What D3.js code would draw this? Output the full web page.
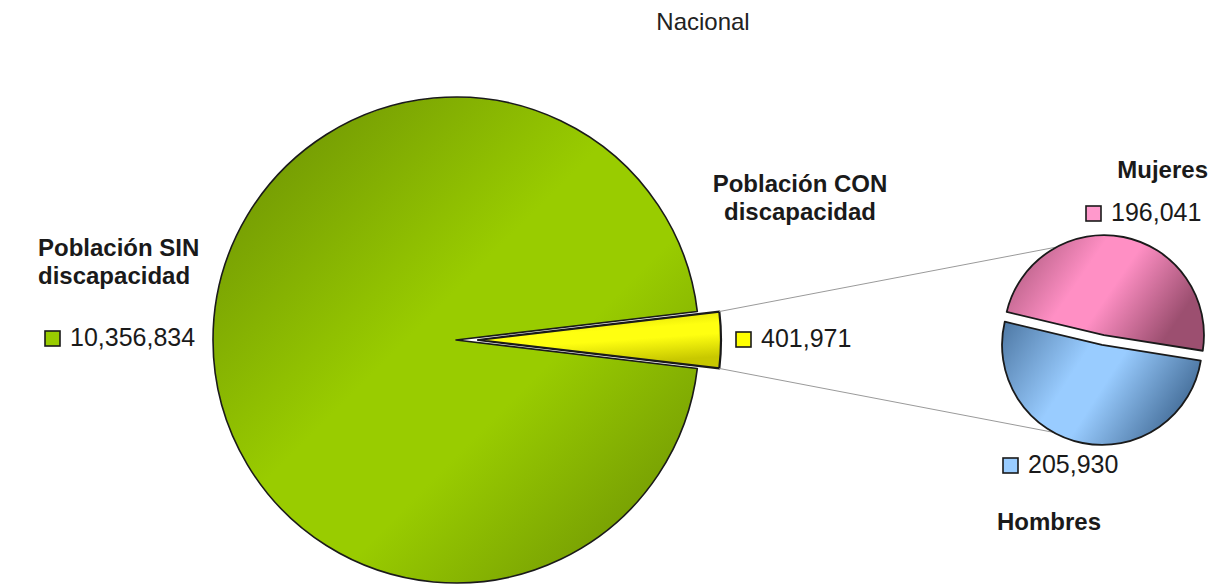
<!DOCTYPE html>
<html>
<head>
<meta charset="utf-8">
<script src="https://cdn.jsdelivr.net/npm/d3@7"></script>
<style>
  body { margin: 0; background: #fff; }
  svg { display: block; font-family: "Liberation Sans", Arial, sans-serif; }
</style>
</head>
<body>
<div id="chart"></div>
<script>
// main pie data
const categories = ["Población SIN discapacidad", "Población CON discapacidad"];
const values = [10356834, 401971];
// breakdown of the second slice
const subCategories = ["Mujeres", "Hombres"];
const subValues = [196041, 205930];

const width = 1232,
  height = 585;
const fmt = d3.format(",");

const svg = d3.select("#chart").append("svg").attr("width", width).attr("height", height);
const defs = svg.append("defs");

// shaded fills, light in the middle and darker toward the edges
function shade(id, dark, light, x2, y2) {
  const g = defs.append("linearGradient").attr("id", id).attr("x1", 0).attr("y1", 0).attr("x2", x2).attr("y2", y2);
  g.append("stop").attr("offset", "0%").attr("stop-color", dark);
  g.append("stop").attr("offset", "45%").attr("stop-color", light);
  g.append("stop").attr("offset", "62%").attr("stop-color", light);
  g.append("stop").attr("offset", "100%").attr("stop-color", dark);
}
shade("g-green", "#678a05", "#99cc00", 1, 1);
shade("g-yellow", "#c8c800", "#ffff10", 0.3, 1);
shade("g-pink", "#9c4f70", "#ff8fc4", 1, 0.4);
shade("g-blue", "#4d77a3", "#99ccff", 1, 0.4);

const colors = ["url(#g-green)", "url(#g-yellow)"];
const swatch = ["#99cc00", "#ffff00"];
const subColors = ["url(#g-pink)", "url(#g-blue)"];
const subSwatch = ["#ff99cc", "#99ccff"];

svg
  .append("text")
  .attr("x", 703)
  .attr("y", 30)
  .attr("text-anchor", "middle")
  .style("font-size", "24px")
  .attr("fill", "#222")
  .text("Nacional");

// ---- main pie ----
const cx = 456,
  cy = 340,
  radius = 243,
  explode = 22;
const total = d3.sum(values);
const smallAngle = (2 * Math.PI * values[1]) / total;
const start = Math.PI / 2 + smallAngle / 2 - 2 * Math.PI;

const pie = d3
  .pie()
  .sort(null)
  .startAngle(start)
  .endAngle(start + 2 * Math.PI);
const mainArcs = pie(values);
const arc = d3.arc().innerRadius(0).outerRadius(radius);

const mainG = svg.append("g").attr("transform", `translate(${cx},${cy})`);
mainG
  .selectAll("path")
  .data(mainArcs)
  .join("path")
  .attr("d", arc)
  .attr("transform", (d, i) => {
    if (i === 0) return null;
    const mid = (d.startAngle + d.endAngle) / 2;
    return `translate(${explode * Math.sin(mid)},${-explode * Math.cos(mid)})`;
  })
  .attr("fill", (d, i) => colors[i])
  .attr("stroke", "#1a1a1a")
  .attr("stroke-width", (d, i) => (i === 0 ? 1.6 : 2.2))
  .attr("stroke-linejoin", "round");

// ---- secondary pie ----
const sx = 1103,
  sy = 340,
  sRadius = 100,
  sExplode = 5,
  tilt = (9 * Math.PI) / 180;
const subTotal = d3.sum(subValues);
const subStart = Math.PI / 2 + tilt - (2 * Math.PI * subValues[0]) / subTotal;
const subPie = d3
  .pie()
  .sort(null)
  .startAngle(subStart)
  .endAngle(subStart + 2 * Math.PI);
const subArcs = subPie(subValues);
const subArc = d3.arc().innerRadius(0).outerRadius(sRadius);

// connector lines from the exploded slice to the secondary pie (tangents)
const small = mainArcs[1];
const smallMid = (small.startAngle + small.endAngle) / 2;
const ox = cx + explode * Math.sin(smallMid),
  oy = cy - explode * Math.cos(smallMid);
function corner(a) {
  return [ox + radius * Math.sin(a), oy - radius * Math.cos(a)];
}
function tangent(p, side) {
  const dx = p[0] - sx,
    dy = p[1] - sy;
  const d = Math.hypot(dx, dy);
  const base = Math.atan2(dy, dx);
  const t = base + side * Math.acos(sRadius / d);
  return [sx + sRadius * Math.cos(t), sy + sRadius * Math.sin(t)];
}
const pTop = corner(small.startAngle);
const pBot = corner(small.endAngle);
const connectors = [
  [pTop, tangent(pTop, 1)],
  [pBot, tangent(pBot, -1)],
];
svg
  .selectAll("line.connector")
  .data(connectors)
  .join("line")
  .attr("class", "connector")
  .attr("x1", (d) => d[0][0])
  .attr("y1", (d) => d[0][1])
  .attr("x2", (d) => d[1][0])
  .attr("y2", (d) => d[1][1])
  .attr("stroke", "#9a9a9a")
  .attr("stroke-width", 1);

const subG = svg.append("g").attr("transform", `translate(${sx},${sy})`);
subG
  .selectAll("path")
  .data(subArcs)
  .join("path")
  .attr("d", subArc)
  .attr("transform", (d) => {
    const mid = (d.startAngle + d.endAngle) / 2;
    return `translate(${sExplode * Math.sin(mid)},${-sExplode * Math.cos(mid)})`;
  })
  .attr("fill", (d, i) => subColors[i])
  .attr("stroke", "#1a1a1a")
  .attr("stroke-width", 1.8)
  .attr("stroke-linejoin", "round");

// ---- labels ----
const titleLabels = [
  { lines: ["Población SIN", "discapacidad"], x: 38, y: 256, anchor: "start" },
  { lines: ["Población CON", "discapacidad"], x: 800, y: 192, anchor: "middle" },
  { lines: ["Mujeres"], x: 1208, y: 178, anchor: "end" },
  { lines: ["Hombres"], x: 997, y: 530, anchor: "start" },
];
titleLabels.forEach((l) => {
  const t = svg
    .append("text")
    .attr("x", l.x)
    .attr("y", l.y)
    .attr("text-anchor", l.anchor)
    .style("font-size", "24px")
    .style("font-weight", "bold")
    .attr("fill", "#1a1a1a");
  l.lines.forEach((line, i) => {
    t.append("tspan")
      .attr("x", l.x)
      .attr("dy", i === 0 ? 0 : 27.5)
      .text(line);
  });
});

const valueLabels = [
  { value: values[0], fill: swatch[0], x: 45, y: 346 },
  { value: values[1], fill: swatch[1], x: 736, y: 347 },
  { value: subValues[0], fill: subSwatch[0], x: 1086, y: 221 },
  { value: subValues[1], fill: subSwatch[1], x: 1003, y: 473 },
];
const vl = svg.selectAll("g.value").data(valueLabels).join("g").attr("class", "value");
vl.append("rect")
  .attr("x", (d) => d.x)
  .attr("y", (d) => d.y - 15)
  .attr("width", 15)
  .attr("height", 15)
  .attr("fill", (d) => d.fill)
  .attr("stroke", "#1a1a1a")
  .attr("stroke-width", 1.6);
vl.append("text")
  .attr("x", (d) => d.x + 25)
  .attr("y", (d) => d.y)
  .style("font-size", "25px")
  .attr("fill", "#1a1a1a")
  .text((d) => fmt(d.value));
</script>
</body>
</html>
